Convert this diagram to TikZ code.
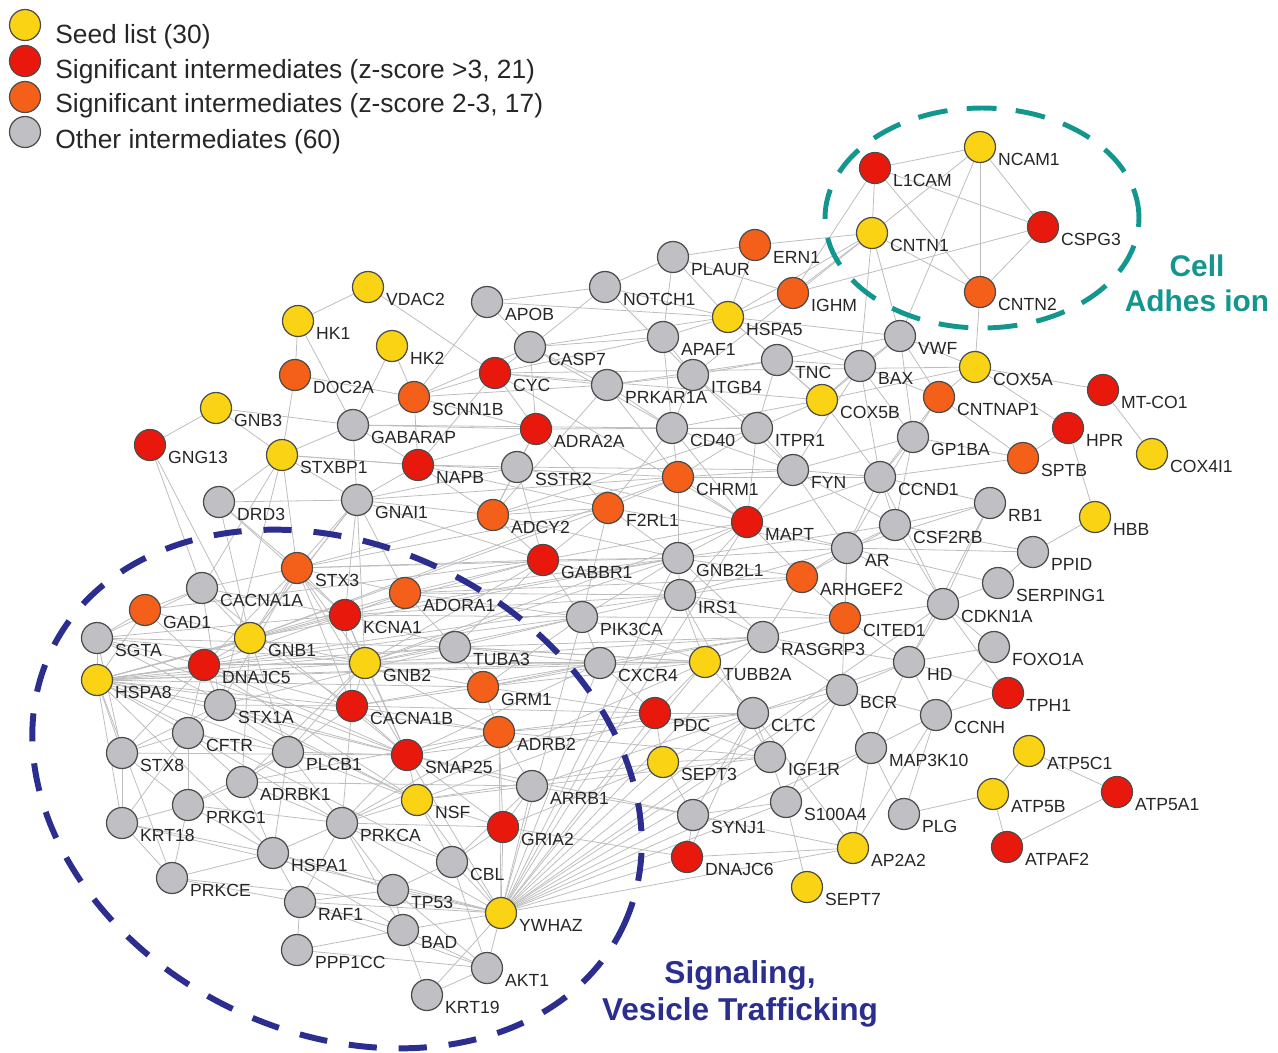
\documentclass[tikz,border=0pt]{standalone}
\usepackage{fontspec}
\setmainfont{Liberation Sans}
\usetikzlibrary{positioning,backgrounds,calc}
\definecolor{seedColor}{HTML}{FAD414}
\definecolor{hizColor}{HTML}{E8190C}
\definecolor{midzColor}{HTML}{F4601A}
\definecolor{othColor}{HTML}{BFBFC4}
\definecolor{adhColor}{HTML}{13968E}
\definecolor{sigColor}{HTML}{2B2E8E}
\definecolor{edgeColor}{HTML}{BDBDBD}
\newcommand{\genefont}{\fontsize{10}{12}\selectfont}
\newcommand{\legfont}{\fontsize{15}{18}\selectfont}

\begin{document}
\begin{tikzpicture}[x=0.02cm, y=-0.02cm,
	gene/.style={circle, draw=black!70, line width=0.7pt, minimum size=0.62cm, inner sep=0pt},
	lab/.style={anchor=north west, inner sep=0pt, font=\genefont, text=black!85, xshift=1pt, yshift=-3.4pt},
	seedgene/.style={gene, fill=seedColor, label={[lab]0:#1}},
	hizgene/.style={gene, fill=hizColor, label={[lab]0:#1}},
	midzgene/.style={gene, fill=midzColor, label={[lab]0:#1}},
	othgene/.style={gene, fill=othColor, label={[lab]0:#1}},
	legtxt/.style={anchor=base west, inner sep=0pt, font=\legfont, text=black!85},
	link/.style={draw=edgeColor, line width=0.45pt}]
	\useasboundingbox (0,0) rectangle (1278,1052);
	
	% legend
	\node[gene, fill=seedColor] (legseed) at (25,25) {};
	\node[gene, fill=hizColor] (leghiz) at (25,61) {};
	\node[gene, fill=midzColor] (legmidz) at (25,97) {};
	\node[gene, fill=othColor] (legoth) at (25,132) {};
	\node[legtxt] (legseedtxt) at (55,43) {Seed list (30)};
	\node[legtxt] (leghiztxt) at (55,78) {Significant intermediates (z-score >3, 21)};
	\node[legtxt] (legmidztxt) at (55,112) {Significant intermediates (z-score 2-3, 17)};
	\node[legtxt] (legothtxt) at (55,148) {Other intermediates (60)};
	
	% cell adhesion
	\node[hizgene=L1CAM] (l1cam) at (875,168) {};
	\node[seedgene=NCAM1] (ncam1) at (980,147) {};
	\node[seedgene=CNTN1] (cntn1) at (872,233) {};
	\node[hizgene=CSPG3] (cspg3) at (1043,227) {};
	\node[midzgene=CNTN2] (cntn2) at (980,292) {};
	
	% upper part
	\node[midzgene=ERN1] (ern1) at (755,245) {};
	\node[othgene=PLAUR] (plaur) at (673,257) {};
	\node[midzgene=IGHM] (ighm) at (793,293) {};
	\node[seedgene=HSPA5] (hspa5) at (728,317) {};
	\node[othgene=NOTCH1] (notch1) at (605,287) {};
	\node[othgene=APOB] (apob) at (487,302) {};
	\node[othgene=APAF1] (apaf1) at (663,337) {};
	\node[othgene=CASP7] (casp7) at (530,347) {};
	\node[seedgene=VDAC2] (vdac2) at (368,287) {};
	\node[seedgene=HK1] (hk1) at (298,321) {};
	\node[seedgene=HK2] (hk2) at (392,346) {};
	\node[midzgene=DOC2A] (doc2a) at (295,375) {};
	\node[hizgene=CYC] (cyc) at (495,373) {};
	\node[midzgene=SCNN1B] (scnn1b) at (414,397) {};
	\node[seedgene=GNB3] (gnb3) at (216,408) {};
	\node[hizgene=GNG13] (gng13) at (150,445) {};
	\node[seedgene=STXBP1] (stxbp1) at (282,455) {};
	\node[othgene=GABARAP] (gabarap) at (353,425) {};
	\node[hizgene=NAPB] (napb) at (418,465) {};
	\node[hizgene=ADRA2A] (adra2a) at (536,429) {};
	\node[othgene=SSTR2] (sstr2) at (517,467) {};
	\node[othgene=DRD3] (drd3) at (219,502) {};
	\node[othgene=GNAI1] (gnai1) at (357,500) {};
	\node[midzgene=ADCY2] (adcy2) at (493,515) {};
	\node[midzgene=F2RL1] (f2rl1) at (608,508) {};
	\node[midzgene=CHRM1] (chrm1) at (678,477) {};
	\node[othgene=CD40] (cd40) at (672,428) {};
	\node[othgene=PRKAR1A] (prkar1a) at (607,385) {};
	\node[othgene=ITGB4] (itgb4) at (693,375) {};
	\node[othgene=TNC] (tnc) at (777,360) {};
	\node[seedgene=COX5B] (cox5b) at (822,400) {};
	\node[othgene=ITPR1] (itpr1) at (757,428) {};
	\node[othgene=FYN] (fyn) at (793,470) {};
	\node[hizgene=MAPT] (mapt) at (747,522) {};
	\node[othgene=GNB2L1] (gnb2l1) at (678,558) {};
	\node[othgene=IRS1] (irs1) at (680,595) {};
	\node[hizgene=GABBR1] (gabbr1) at (543,560) {};
	\node[othgene=PIK3CA] (pik3ca) at (582,617) {};
	\node[othgene=CXCR4] (cxcr4) at (600,663) {};
	\node[seedgene=TUBB2A] (tubb2a) at (705,662) {};
	\node[othgene=RASGRP3] (rasgrp3) at (763,637) {};
	\node[midzgene=ARHGEF2] (arhgef2) at (802,577) {};
	\node[midzgene=CITED1] (cited1) at (845,618) {};
	\node[othgene=TUBA3] (tuba3) at (455,647) {};
	\node[midzgene=GRM1] (grm1) at (483,687) {};
	\node[midzgene=ADORA1] (adora1) at (405,593) {};
	
	% right part
	\node[othgene=VWF] (vwf) at (900,336) {};
	\node[othgene=BAX] (bax) at (860,366) {};
	\node[seedgene=COX5A] (cox5a) at (975,367) {};
	\node[midzgene=CNTNAP1] (cntnap1) at (939,397) {};
	\node[hizgene=MT-CO1] (mtco1) at (1103,390) {};
	\node[hizgene=HPR] (hpr) at (1068,428) {};
	\node[seedgene=COX4I1] (cox4i1) at (1152,454) {};
	\node[midzgene=SPTB] (sptb) at (1023,458) {};
	\node[seedgene=HBB] (hbb) at (1095,517) {};
	\node[othgene=GP1BA] (gp1ba) at (913,437) {};
	\node[othgene=CCND1] (ccnd1) at (880,477) {};
	\node[othgene=RB1] (rb1) at (990,503) {};
	\node[othgene=CSF2RB] (csf2rb) at (895,525) {};
	\node[othgene=AR] (ar) at (847,548) {};
	\node[othgene=PPID] (ppid) at (1033,552) {};
	\node[othgene=SERPING1] (serping1) at (998,583) {};
	\node[othgene=CDKN1A] (cdkn1a) at (943,604) {};
	\node[othgene=FOXO1A] (foxo1a) at (994,647) {};
	\node[othgene=HD] (hd) at (909,662) {};
	\node[hizgene=TPH1] (tph1) at (1008,693) {};
	\node[othgene=BCR] (bcr) at (842,690) {};
	\node[othgene=CCNH] (ccnh) at (936,715) {};
	\node[seedgene=ATP5C1] (atp5c1) at (1029,751) {};
	\node[othgene=MAP3K10] (map3k10) at (871,748) {};
	\node[hizgene=ATP5A1] (atp5a1) at (1117,792) {};
	\node[seedgene=ATP5B] (atp5b) at (993,794) {};
	\node[othgene=PLG] (plg) at (904,814) {};
	\node[hizgene=ATPAF2] (atpaf2) at (1007,847) {};
	\node[seedgene=AP2A2] (ap2a2) at (853,848) {};
	\node[seedgene=SEPT7] (sept7) at (807,887) {};
	\node[othgene=S100A4] (s100a4) at (786,802) {};
	\node[othgene=SYNJ1] (synj1) at (693,815) {};
	\node[hizgene=DNAJC6] (dnajc6) at (687,857) {};
	\node[othgene=IGF1R] (igf1r) at (770,757) {};
	\node[othgene=CLTC] (cltc) at (753,713) {};
	\node[seedgene=SEPT3] (sept3) at (663,762) {};
	\node[hizgene=PDC] (pdc) at (655,713) {};
	
	% lower left part
	\node[midzgene=STX3] (stx3) at (297,568) {};
	\node[othgene=CACNA1A] (cacna1a) at (202,588) {};
	\node[midzgene=GAD1] (gad1) at (145,610) {};
	\node[hizgene=KCNA1] (kcna1) at (345,615) {};
	\node[othgene=SGTA] (sgta) at (97,638) {};
	\node[seedgene=GNB1] (gnb1) at (250,638) {};
	\node[hizgene=DNAJC5] (dnajc5) at (204,665) {};
	\node[seedgene=GNB2] (gnb2) at (365,663) {};
	\node[seedgene=HSPA8] (hspa8) at (97,680) {};
	\node[othgene=STX1A] (stx1a) at (220,705) {};
	\node[hizgene=CACNA1B] (cacna1b) at (352,706) {};
	\node[othgene=CFTR] (cftr) at (188,733) {};
	\node[othgene=STX8] (stx8) at (122,753) {};
	\node[othgene=PLCB1] (plcb1) at (288,752) {};
	\node[hizgene=SNAP25] (snap25) at (407,755) {};
	\node[midzgene=ADRB2] (adrb2) at (499,732) {};
	\node[othgene=ADRBK1] (adrbk1) at (242,782) {};
	\node[othgene=ARRB1] (arrb1) at (532,786) {};
	\node[seedgene=NSF] (nsf) at (417,800) {};
	\node[othgene=PRKG1] (prkg1) at (188,805) {};
	\node[othgene=KRT18] (krt18) at (122,823) {};
	\node[othgene=PRKCA] (prkca) at (342,823) {};
	\node[hizgene=GRIA2] (gria2) at (503,827) {};
	\node[othgene=HSPA1] (hspa1) at (273,853) {};
	\node[othgene=CBL] (cbl) at (452,862) {};
	\node[othgene=PRKCE] (prkce) at (172,878) {};
	\node[othgene=TP53] (tp53) at (393,890) {};
	\node[othgene=RAF1] (raf1) at (300,902) {};
	\node[seedgene=YWHAZ] (ywhaz) at (501,913) {};
	\node[othgene=BAD] (bad) at (403,930) {};
	\node[othgene=PPP1CC] (ppp1cc) at (297,950) {};
	\node[othgene=AKT1] (akt1) at (487,968) {};
	\node[othgene=KRT19] (krt19) at (427,995) {};
	
	% interactions, behind the genes
	\begin{scope}[on background layer]
		\foreach \a/\b in {l1cam/ncam1, l1cam/cntn1, l1cam/cspg3, l1cam/cntn2, ncam1/cspg3, ncam1/cntn2,
			ncam1/cntn1, cntn1/cntn2, cspg3/cntn2, cspg3/ighm, cntn1/vwf, cntn1/ern1, cntn1/ighm,
			cntn1/hspa5, ncam1/vwf, cntn2/cox5a, l1cam/ighm, cntn1/bax, cntn1/itgb4}
			\draw[link] (\a) -- (\b);
		\foreach \a/\b in {vdac2/hk1, vdac2/cyc, hk1/gabarap, hk2/scnn1b, hk2/gabarap, apob/notch1,
			apob/hspa5, apob/scnn1b, apob/casp7, notch1/plaur, notch1/hspa5, notch1/casp7, notch1/itgb4,
			plaur/ern1, plaur/hspa5, plaur/apaf1, plaur/ighm, ern1/hspa5, ighm/hspa5, hspa5/casp7,
			hspa5/apaf1, hspa5/tnc, hspa5/vwf, hspa5/cox5b, hspa5/bax, apaf1/casp7, apaf1/cyc,
			apaf1/itgb4, apaf1/cd40, casp7/cyc, casp7/prkar1a, casp7/adra2a, casp7/cd40, casp7/scnn1b,
			cyc/scnn1b, cyc/napb, cyc/adra2a, cyc/prkar1a, cyc/cox5b, cyc/cox5a, prkar1a/itgb4,
			prkar1a/cd40, prkar1a/chrm1, prkar1a/adcy2, prkar1a/tnc, itgb4/tnc, itgb4/itpr1, itgb4/cd40,
			itgb4/fyn, tnc/cox5b, tnc/bax, tnc/itpr1, cox5b/bax, cox5b/cox5a, cox5b/vwf, cox5b/itpr1,
			cox5b/ccnd1, itpr1/fyn, itpr1/cd40, itpr1/chrm1, itpr1/mapt, cd40/chrm1, cd40/fyn, cd40/f2rl1,
			cd40/mapt, chrm1/f2rl1, chrm1/mapt, chrm1/adcy2, chrm1/fyn, chrm1/gnb2l1, fyn/mapt, fyn/ccnd1,
			fyn/ar, fyn/gp1ba, fyn/csf2rb, mapt/gnb2l1, mapt/arhgef2, mapt/ar, mapt/gabbr1, mapt/irs1,
			f2rl1/adcy2, f2rl1/gabbr1, f2rl1/gnb2l1, f2rl1/adra2a, f2rl1/pik3ca, adcy2/adra2a, adcy2/sstr2,
			adcy2/gabbr1, adcy2/napb, adra2a/sstr2, adra2a/napb, adra2a/scnn1b, sstr2/napb, sstr2/gabbr1,
			sstr2/gnai1, napb/gabarap, napb/stxbp1, napb/scnn1b, napb/gnai1, scnn1b/gabarap, scnn1b/doc2a,
			doc2a/stxbp1, doc2a/hk1, gabarap/stxbp1, gabarap/gnai1, gnb3/gng13, gnb3/stxbp1, gnb3/gabarap,
			gng13/cacna1a, gng13/gnb1, stxbp1/drd3, stxbp1/stx3, stxbp1/gnai1, stxbp1/stx1a,
			stxbp1/cacna1a, drd3/gnai1, drd3/gnb1, drd3/stx3, drd3/kcna1, gnai1/stx3, gnai1/gnb1,
			gnai1/gnb2, gnai1/adora1, gnai1/kcna1, gnai1/gabbr1, gnai1/adcy2}
			\draw[link] (\a) -- (\b);
		\foreach \a/\b in {gabbr1/gnb2l1, gabbr1/pik3ca, gabbr1/adora1, gabbr1/gnb2, gabbr1/tuba3,
			gnb2l1/irs1, gnb2l1/pik3ca, gnb2l1/arhgef2, gnb2l1/ar, gnb2l1/rasgrp3, irs1/pik3ca,
			irs1/rasgrp3, irs1/tubb2a, irs1/arhgef2, irs1/cited1, pik3ca/cxcr4, pik3ca/tuba3, pik3ca/grm1,
			pik3ca/tubb2a, cxcr4/tubb2a, cxcr4/pdc, cxcr4/grm1, cxcr4/rasgrp3, tubb2a/rasgrp3, tubb2a/cltc,
			tubb2a/tuba3, rasgrp3/arhgef2, rasgrp3/cited1, rasgrp3/bcr, rasgrp3/hd, arhgef2/cited1,
			arhgef2/ar, arhgef2/csf2rb, cited1/cdkn1a, cited1/hd, cited1/ar, tuba3/adora1, tuba3/grm1,
			grm1/adrb2, adora1/kcna1, adora1/stx3}
			\draw[link] (\a) -- (\b);
		% long links across the middle
		\foreach \a/\b in {cyc/mapt, napb/chrm1, sstr2/fyn, adcy2/itpr1, gabarap/cd40, gnai1/chrm1,
			stx3/f2rl1, gnb1/chrm1, gnb2/mapt, kcna1/gnb2l1, adora1/arhgef2, tuba3/rasgrp3, grm1/tubb2a,
			adrb2/igf1r, hspa8/gabbr1, irs1/ar, pik3ca/cited1, gnb2l1/csf2rb, mapt/ccnd1, f2rl1/ar,
			chrm1/ccnd1, cd40/cox5b, adra2a/itpr1, sstr2/mapt, adcy2/gnb2l1, gabbr1/irs1, napb/f2rl1,
			scnn1b/prkar1a, gabarap/adra2a, stxbp1/napb, kcna1/irs1, gnb2/tubb2a, cacna1b/cxcr4,
			grm1/rasgrp3, adora1/pik3ca, stx3/gnb2l1}
			\draw[link] (\a) -- (\b);
		\foreach \a/\b in {vwf/bax, vwf/cox5a, vwf/cntnap1, vwf/gp1ba, vwf/tnc, bax/cntnap1, bax/ccnd1,
			bax/gp1ba, bax/fyn, cox5a/mtco1, cox5a/hpr, cox5a/cntnap1, mtco1/cox4i1, hpr/hbb, hpr/sptb,
			cntnap1/sptb, cntnap1/gp1ba, cntnap1/ccnd1, sptb/ccnd1, sptb/gp1ba, gp1ba/ccnd1, gp1ba/ar,
			gp1ba/csf2rb, ccnd1/rb1, ccnd1/csf2rb, ccnd1/ar, ccnd1/cdkn1a, rb1/csf2rb, rb1/ar, rb1/cdkn1a,
			rb1/hd, hbb/ppid, ppid/ar, ppid/csf2rb, ppid/serping1, serping1/cdkn1a, serping1/ar,
			cdkn1a/hd, cdkn1a/csf2rb, cdkn1a/foxo1a, cdkn1a/tph1, cdkn1a/ar, foxo1a/hd, foxo1a/ccnh,
			hd/bcr, hd/ccnh, hd/cltc, hd/map3k10, tph1/ccnh, tph1/hd, bcr/ccnh, bcr/map3k10, bcr/cltc,
			bcr/igf1r, bcr/s100a4, ccnh/map3k10, ccnh/plg, ccnh/ap2a2, map3k10/ap2a2, map3k10/plg,
			map3k10/s100a4, plg/atp5b, atp5b/atp5c1, atp5b/atpaf2, atp5c1/atp5a1, atpaf2/atp5a1,
			s100a4/sept7, s100a4/igf1r, s100a4/synj1, synj1/dnajc6, synj1/ap2a2, synj1/sept3, synj1/cltc,
			igf1r/cltc, igf1r/pdc, igf1r/sept3, igf1r/irs1, cltc/ap2a2, cltc/pdc, cltc/sept3, cltc/dnajc6,
			pdc/sept3, pdc/tubb2a, ap2a2/dnajc6, ar/csf2rb, ar/bcr}
			\draw[link] (\a) -- (\b);
		\foreach \a/\b in {stx3/cacna1a, stx3/kcna1, stx3/gnb1, stx3/stx1a, stx3/snap25, stx3/gnb2,
			stx3/cacna1b, stx3/dnajc5, cacna1a/gad1, cacna1a/gnb1, cacna1a/kcna1, cacna1a/stx1a,
			cacna1a/snap25, cacna1a/sgta, gad1/sgta, gad1/dnajc5, gad1/hspa8, gad1/gnb1, kcna1/gnb2,
			kcna1/dnajc5, kcna1/cacna1b, kcna1/snap25, kcna1/tuba3, sgta/hspa8, sgta/dnajc5, sgta/gnb2,
			sgta/stx8, gnb1/gnb2, gnb1/dnajc5, gnb1/plcb1, gnb1/adrbk1, gnb1/cacna1b, gnb1/hspa8,
			dnajc5/hspa8, dnajc5/stx1a, dnajc5/snap25, dnajc5/cftr, dnajc5/cacna1b, dnajc5/gnb2,
			dnajc5/nsf, dnajc5/tuba3, dnajc5/stx8, gnb2/cacna1b, gnb2/plcb1, gnb2/adrbk1, gnb2/tuba3,
			gnb2/grm1, gnb2/adrb2, gnb2/snap25, gnb2/hspa8, hspa8/stx1a, hspa8/cftr, hspa8/stx8,
			hspa8/krt18, hspa8/snap25, hspa8/nsf, hspa8/tuba3, hspa8/grm1, hspa8/kcna1, hspa8/pik3ca,
			hspa8/cxcr4, hspa8/hspa1, hspa8/prkce, hspa8/cbl, hspa8/tubb2a, hspa8/irs1, hspa8/adrb2,
			hspa8/cacna1b, sgta/tuba3, sgta/kcna1, sgta/snap25, sgta/nsf, stx1a/cftr, stx1a/snap25,
			stx1a/cacna1b, stx1a/stx8, stx1a/nsf, stx1a/plcb1, stx1a/tuba3, cacna1b/snap25, cacna1b/plcb1,
			cacna1b/grm1, cacna1b/adrb2, cacna1b/prkca, cacna1b/pdc, cftr/stx8, cftr/plcb1, cftr/adrbk1,
			cftr/prkg1, cftr/krt18, cftr/prkca, stx8/krt18, stx8/prkg1, stx8/snap25, plcb1/adrbk1,
			plcb1/prkca, plcb1/snap25, plcb1/prkg1, plcb1/hspa1, snap25/nsf, snap25/adrb2, snap25/arrb1,
			snap25/gria2, snap25/prkca, snap25/cxcr4, snap25/synj1, snap25/cltc, adrb2/arrb1, adrb2/gria2,
			adrb2/prkca, adrb2/adrbk1, adrb2/cltc, adrb2/pdc, adrbk1/prkg1, adrbk1/prkca, adrbk1/arrb1,
			adrbk1/hspa1, arrb1/nsf, arrb1/gria2, arrb1/cbl, arrb1/igf1r, arrb1/cltc, arrb1/synj1,
			nsf/gria2, nsf/prkca, nsf/cbl, nsf/sept3, nsf/pdc, prkg1/krt18, prkg1/prkca, prkg1/hspa1,
			prkg1/prkce, krt18/prkce, krt18/hspa1, krt18/ywhaz, prkca/hspa1, prkca/raf1, prkca/tp53,
			prkca/cbl, prkca/gria2, prkca/bad, prkca/rasgrp3, gria2/cbl, gria2/sept3, gria2/dnajc6,
			hspa1/raf1, hspa1/tp53, hspa1/prkce, hspa1/bad, cbl/tp53, cbl/akt1, prkce/raf1, prkce/ywhaz,
			tp53/raf1, tp53/bad, tp53/akt1, raf1/ppp1cc, raf1/bad, raf1/akt1, bad/ppp1cc, bad/akt1,
			bad/krt19, ppp1cc/akt1, akt1/krt19, krt19/ywhaz, grm1/pdc, tuba3/tubb2a, tuba3/cxcr4,
			adora1/irs1, gnb1/gnb2l1, gnb2/gnb2l1, adora1/gnb2l1, stx3/gabbr1, stx3/adcy2, gad1/gabbr1,
			gnb1/f2rl1, dnajc5/cxcr4, kcna1/pik3ca, gnb2/pik3ca, gnb2/rasgrp3, gnb1/adora1, gnb1/gnai1}
			\draw[link] (\a) -- (\b);
		% the 14-3-3 hub
		\foreach \b in {gria2, cbl, tp53, bad, akt1, raf1, arrb1, snap25, nsf, prkca, sept3, synj1,
			dnajc6, pdc, cltc, igf1r, s100a4, cxcr4, pik3ca, irs1, mapt, gnb2l1, adrb2, hspa1, tubb2a,
			bcr, map3k10, cdkn1a, ap2a2, rasgrp3}
			\draw[link] (ywhaz) -- (\b);
	\end{scope}
	
	% clusters
	\draw[adhColor, line width=2.8pt, dash pattern=on 17pt off 11pt] (982,218) ellipse [x radius=3.14cm, y radius=2.2cm];
	\draw[sigColor, line width=3.4pt, dash pattern=on 16pt off 12.5pt] (337,789) ellipse [x radius=6.35cm, y radius=4.87cm, rotate=-26];
	\node[font=\bfseries\fontsize{17}{20}\selectfont, text=adhColor, align=center] (adhtxt) at (1197,283) {Cell\\Adhes ion};
	\node[font=\bfseries\fontsize{18}{21}\selectfont, text=sigColor, align=center] (sigtxt) at (740,994) {Signaling,\\Vesicle Trafficking};
\end{tikzpicture}
\end{document}
